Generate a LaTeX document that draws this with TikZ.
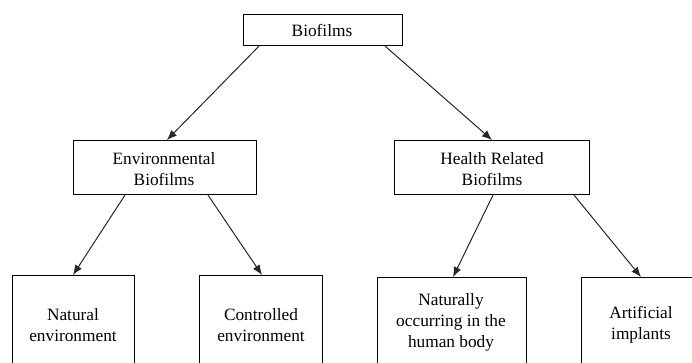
\documentclass[tikz,border=0pt]{standalone}
\usepackage{fontspec}
\setmainfont{Liberation Serif}
\usetikzlibrary{arrows.meta}
\begin{document}
\begin{tikzpicture}[x=1pt,y=-1pt,
  box/.style={draw=black,line width=1.1pt,rectangle,inner sep=0pt,anchor=north west,fill=white},
  lbl/.style={align=center,font=\fontsize{17.3pt}{21pt}\selectfont,inner sep=0pt},
  arr/.style={draw=black!85,line width=1pt,-{Latex[length=10pt,width=8pt]}}]
\useasboundingbox (0,0) rectangle (692,362);
\clip (0,0) rectangle (692,362);
% boxes
\node[box,minimum width=159pt,minimum height=31pt] (bio) at (243,14) {};
\node[box,minimum width=183pt,minimum height=54pt] (env) at (73,140) {};
\node[box,minimum width=195pt,minimum height=54pt] (hea) at (394,140) {};
\node[box,minimum width=122pt,minimum height=110pt] (nat) at (12,275) {};
\node[box,minimum width=123pt,minimum height=110pt] (con) at (199,275) {};
\node[box,minimum width=149pt,minimum height=110pt] (nhb) at (377,277) {};
\node[box,minimum width=160pt,minimum height=110pt] (art) at (581,277) {};
% labels
\node[lbl] (bioT) at (322,30) {Biofilms};
\node[lbl] (envT) at (164,169) {Environmental\\Biofilms};
\node[lbl] (heaT) at (492,169) {Health Related\\Biofilms};
\node[lbl] (natT) at (73,325) {Natural\\environment};
\node[lbl] (conT) at (261,325) {Controlled\\environment};
\node[lbl] (nhbT) at (451,322) {Naturally\\occurring in the\\human body};
\node[lbl] (artT) at (641,325) {Artificial\\implants};
% arrows
\draw[arr] ([xshift=16pt]bio.south west) -- ([xshift=94pt]env.north west);
\draw[arr] ([xshift=-18pt]bio.south east) -- ([xshift=98pt]hea.north west);
\draw[arr] ([xshift=52pt]env.south west) -- ([xshift=61pt]nat.north west);
\draw[arr] ([xshift=135pt]env.south west) -- ([xshift=63pt]con.north west);
\draw[arr] ([xshift=99pt]hea.south west) -- ([xshift=76pt]nhb.north west);
\draw[arr] ([xshift=180pt]hea.south west) -- ([xshift=60pt]art.north west);
\end{tikzpicture}
\end{document}
